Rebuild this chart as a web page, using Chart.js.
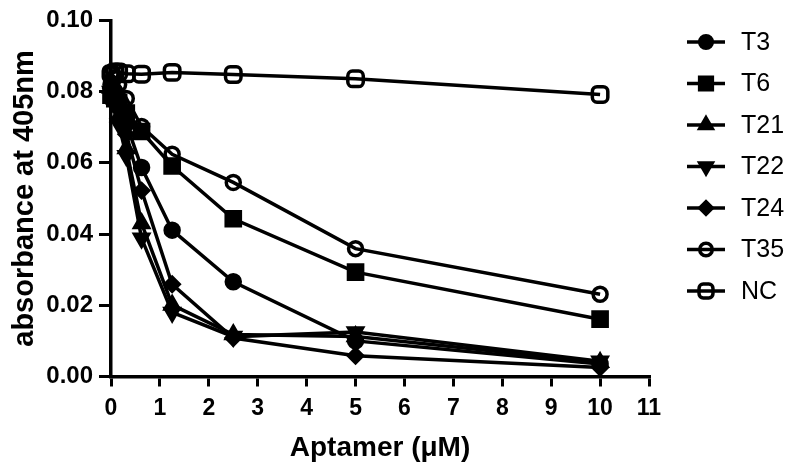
<!DOCTYPE html>
<html>
<head>
<meta charset="utf-8">
<script src="https://cdn.jsdelivr.net/npm/chart.js@4/dist/chart.umd.min.js"></script>
<style>
  html, body { margin: 0; padding: 0; background: #fff; }
  #wrap { width: 800px; height: 471px; }
</style>
</head>
<body>
<div id="wrap"><canvas id="c" width="800" height="471"></canvas></div>
<script>
// ---- data ----
const concentrations = [0, 0.078, 0.156, 0.3125, 0.625, 1.25, 2.5, 5, 10];
const seriesNames = ['T3', 'T6', 'T21', 'T22', 'T24', 'T35', 'NC'];
const T3  = [0.082, 0.080, 0.077, 0.071, 0.0587, 0.0411, 0.0266, 0.0100, 0.0035];
const T6  = [0.079, 0.078, 0.077, 0.074, 0.0688, 0.0591, 0.0443, 0.0293, 0.0161];
const T21 = [0.081, 0.078, 0.073, 0.064, 0.0430, 0.0201, 0.0118, 0.0112, 0.0040];
const T22 = [0.080, 0.077, 0.071, 0.062, 0.0388, 0.0180, 0.0112, 0.0125, 0.0043];
const T24 = [0.081, 0.079, 0.075, 0.068, 0.0522, 0.0259, 0.0108, 0.0058, 0.0025];
const T35 = [0.085, 0.084, 0.082, 0.0781, 0.0702, 0.0624, 0.0545, 0.0359, 0.0231];
const NC  = [0.085, 0.0855, 0.0855, 0.085, 0.0849, 0.0854, 0.0848, 0.0836, 0.0792];
const xTicks = [0, 1, 2, 3, 4, 5, 6, 7, 8, 9, 10, 11];
const yTicks = [0.00, 0.02, 0.04, 0.06, 0.08, 0.10];
const xTitle = 'Aptamer (\u03BCM)';
const yTitle = 'absorbance at 405nm';

const values = [T3, T6, T21, T22, T24, T35, NC];
const styles = [
  { pointStyle: 'circle',      radius: 7,  rotation: 0,   fill: '#000' },
  { pointStyle: 'rect',        radius: 10, rotation: 0,   fill: '#000' },
  { pointStyle: 'triangle',    radius: 8,  rotation: 0,   fill: '#000' },
  { pointStyle: 'triangle',    radius: 8,  rotation: 180, fill: '#000' },
  { pointStyle: 'rectRot',     radius: 7,  rotation: 0,   fill: '#000' },
  { pointStyle: 'circle',      radius: 7,  rotation: 0,   fill: 'rgba(0,0,0,0)' },
  { pointStyle: 'rectRounded', radius: 9,  rotation: 0,   fill: 'rgba(0,0,0,0)' }
];

const FONT = "'Liberation Sans', Arial, Helvetica, sans-serif";
Chart.defaults.font.family = FONT;
Chart.defaults.color = '#000';

const LW = 3.5;

const datasets = seriesNames.map((name, i) => ({
  label: name,
  data: concentrations.map((x, j) => ({ x: x, y: values[i][j] })),
  borderColor: '#000',
  borderWidth: LW,
  backgroundColor: styles[i].fill,
  pointStyle: styles[i].pointStyle,
  pointRadius: styles[i].radius,
  pointRotation: styles[i].rotation,
  pointBorderColor: '#000',
  pointBackgroundColor: styles[i].fill,
  pointBorderWidth: LW,
  tension: 0,
  fill: false,
  clip: false
}));

const legendPlugin = {
  id: 'sideLegend',
  afterDraw(chart) {
    const ctx = chart.ctx;
    const x0 = 687, x1 = 725, xm = 706, xt = 741;
    chart.data.datasets.forEach((ds, i) => {
      const y = 42 + i * 41.5;
      ctx.save();
      ctx.strokeStyle = '#000';
      ctx.lineWidth = LW;
      ctx.beginPath();
      ctx.moveTo(x0, y);
      ctx.lineTo(x1, y);
      ctx.stroke();
      ctx.fillStyle = ds.pointBackgroundColor;
      ctx.strokeStyle = '#000';
      ctx.lineWidth = LW;
      Chart.helpers.drawPoint(ctx, {
        pointStyle: ds.pointStyle,
        rotation: ds.pointRotation,
        radius: ds.pointRadius * 0.9,
        borderWidth: LW
      }, xm, y);
      ctx.fillStyle = '#000';
      ctx.font = '25px ' + FONT;
      ctx.textBaseline = 'middle';
      ctx.textAlign = 'left';
      ctx.fillText(ds.label, xt, y + 1);
      ctx.restore();
    });
  }
};

new Chart(document.getElementById('c'), {
  type: 'line',
  data: { datasets: datasets },
  options: {
    responsive: false,
    devicePixelRatio: 1,
    animation: false,
    layout: { padding: { top: 16, right: 151, bottom: 0, left: 0 } },
    plugins: { legend: { display: false }, tooltip: { enabled: false } },
    scales: {
      x: {
        type: 'linear',
        min: xTicks[0],
        max: xTicks[xTicks.length - 1],
        afterBuildTicks(scale) { scale.ticks = xTicks.map(v => ({ value: v })); },
        afterFit(scale) { scale.height = 94.5; },
        ticks: {
          font: { size: 23, weight: 'bold' },
          color: '#000',
          padding: 8,
          maxRotation: 0,
          callback: v => String(v)
        },
        grid: { display: true, drawOnChartArea: false, drawTicks: true, tickLength: 10, color: '#000', lineWidth: 3 },
        border: { display: true, color: '#000', width: 3.5 },
        title: { display: true, text: xTitle, font: { size: 28, weight: 'bold' }, color: '#000', padding: { top: 0, bottom: 6 } }
      },
      y: {
        type: 'linear',
        min: yTicks[0],
        max: yTicks[yTicks.length - 1],
        afterBuildTicks(scale) { scale.ticks = yTicks.map(v => ({ value: v })); },
        afterFit(scale) { scale.width = 111; },
        ticks: {
          font: { size: 24, weight: 'bold' },
          color: '#000',
          padding: 6,
          callback: v => Number(v).toFixed(2)
        },
        grid: { display: true, drawOnChartArea: false, drawTicks: true, tickLength: 12, color: '#000', lineWidth: 3 },
        border: { display: true, color: '#000', width: 3.5 },
        title: { display: true, text: yTitle, font: { size: 29, weight: 'bold' }, color: '#000', padding: { top: 8, bottom: 0 } }
      }
    }
  },
  plugins: [legendPlugin]
});
</script>
</body>
</html>
